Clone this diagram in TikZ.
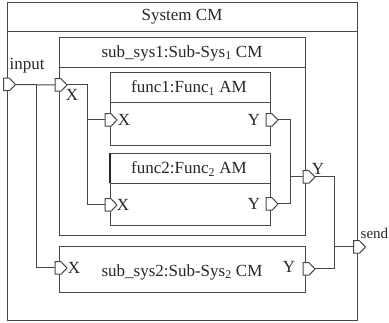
\documentclass[tikz,border=0pt]{standalone}
\usepackage{fontspec}
\setmainfont{Liberation Serif}
\begin{document}
\begin{tikzpicture}[x=1pt,y=-1pt,
  ln/.style={draw=black!72, line width=1pt},
  box/.style={ln, rectangle, inner sep=0pt},
  port/.style={rectangle, minimum width=12pt, minimum height=12.5pt, inner sep=0pt, outer sep=0pt,
    append after command={\pgfextra{\draw[ln, fill=white, line join=miter]
      (\tikzlastnode.north west) -- (\tikzlastnode.north) -- (\tikzlastnode.east)
      -- (\tikzlastnode.south) -- (\tikzlastnode.south west) -- cycle;}}},
  lbl/.style={font=\fontsize{17}{19}\selectfont, inner sep=0pt, text=black!85},
  wire/.style={ln}]
\useasboundingbox (0,0) rectangle (389,323);
% containers
\node[box, minimum width=350pt, minimum height=318pt] (sys) at (182,162) {};
\draw[ln] ([yshift=-29pt]sys.north west) -- ([yshift=-29pt]sys.north east);
\node[box, minimum width=246pt, minimum height=198pt] (ss1) at (182,137) {};
\draw[ln] ([yshift=-30pt]ss1.north west) -- ([yshift=-30pt]ss1.north east);
\node[box, minimum width=160pt, minimum height=73pt] (f1) at (190,109.5) {};
\draw[ln] ([yshift=-30pt]f1.north west) -- ([yshift=-30pt]f1.north east);
\node[box, minimum width=160pt, minimum height=72pt] (f2) at (190,190) {};
\draw[ln] ([yshift=-30pt]f2.north west) -- ([yshift=-30pt]f2.north east);
\draw[draw=black!85, line width=2pt] (f2.north west) -- ([yshift=-30pt]f2.north west);
\node[box, minimum width=246pt, minimum height=46pt] (ss2) at (182,270) {};
% titles
\node[lbl] (tsys) at (182,17) {System CM};
\node[lbl] (tss1) at (182,53) {sub\_sys1:Sub-Sys\textsubscript{1} CM};
\node[lbl] (tf1) at (189,88) {func1:Func\textsubscript{1} AM};
\node[lbl] (tf2) at (189,169) {func2:Func\textsubscript{2} AM};
\node[lbl] (tss2) at (182,272) {sub\_sys2:Sub-Sys\textsubscript{2} CM};
% ports
\node[port] (input) at (9.5,84.5) {};
\node[port] (ss1X) at (61,85) {};
\node[port] (f1X) at (111,120) {};
\node[port] (f2X) at (111,205) {};
\node[port] (f1Y) at (272,120) {};
\node[port] (f2Y) at (272,204) {};
\node[port] (ss1Y) at (309,177) {};
\node[port] (ss2X) at (61,268) {};
\node[port] (ss2Y) at (309,269) {};
\node[port] (send) at (359.5,247) {};
% port labels
\node[lbl] (linput) at (27,66) {input};
\node[lbl] (lss1X) at (72,95) {X};
\node[lbl] (lf1X) at (124,120) {X};
\node[lbl] (lf2X) at (123,205) {X};
\node[lbl] (lf1Y) at (254,120) {Y};
\node[lbl] (lf2Y) at (254,204) {Y};
\node[lbl] (lss1Y) at (318,169) {Y};
\node[lbl] (lss2X) at (74,268) {X};
\node[lbl] (lss2Y) at (289,267) {Y};
\node[lbl, font=\fontsize{15}{17}\selectfont, anchor=west] (lsend) at (360.5,233) {send};
% wires
\coordinate (b1) at (36,84.5);
\coordinate (j1) at (87,85);
\coordinate (j2) at (290,177);
\coordinate (j3) at (334,247);
\draw[wire] (input.east) -- (ss1X.west);
\draw[wire] (b1) |- (ss2X.west);
\draw[wire] (ss1X.east) -- (j1) |- (f2X.west);
\draw[wire] (j1 |- f1X.west) -- (f1X.west);
\draw[wire] (f1Y.east) -| (j2) -- (ss1Y.west);
\draw[wire] (f2Y.east) -| (j2);
\draw[wire] (ss1Y.east) -| (j3) -- (send.west);
\draw[wire] (ss2Y.east) -| (j3);
\end{tikzpicture}
\end{document}
